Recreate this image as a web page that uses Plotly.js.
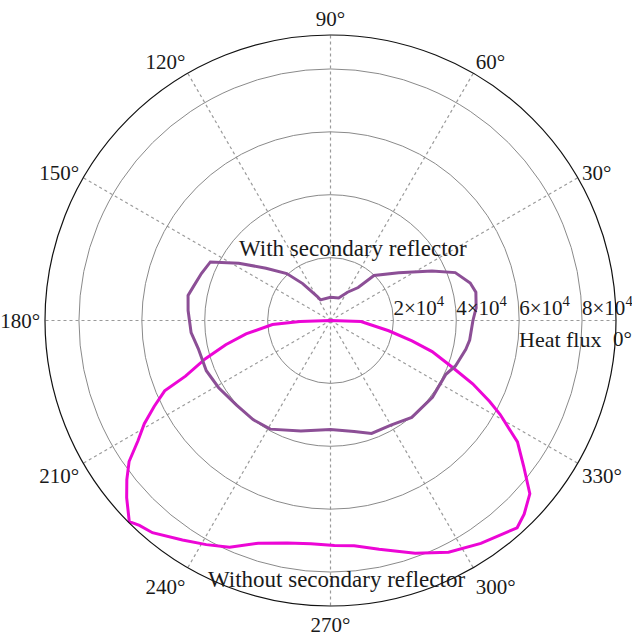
<!DOCTYPE html>
<html>
<head>
<meta charset="utf-8">
<script src="https://cdn.plot.ly/plotly-3.0.1.min.js"></script>
<style>html,body{margin:0;padding:0;background:#fff;}</style>
</head>
<body>
<div id="chart" style="width:632px;height:637px;"></div>
<script>
// Without secondary reflector (magenta), heat flux in units of 1e4
const thetaWithout = [180,182,184,189,193,197,201,203,206,209,212,215,218,221,225,227,230,236,241,246,252,259,265,271,276,282,290,297,304,312,315,319,323,327,331,333,336,339,343,346,350,358,360];
const rWithout = [0,0.97,1.85,2.72,3.42,4.16,4.94,5.73,6.24,6.77,7.22,7.82,8.22,8.59,9.05,8.91,8.81,8.42,8.15,7.89,7.45,7.21,7.13,7.16,7.20,7.44,7.88,8.27,8.55,8.87,8.71,8.40,7.69,7.09,6.17,5.68,4.95,4.15,3.38,2.67,1.88,0.97,0];

// With secondary reflector (purple), heat flux in units of 1e4
const thetaWith = [0,5,11,15,21,26,35,46,50,59,70,90,116,119,127,133,141,148,154,160,166,170,176,185,192,202,211,222,232,241,255,270,282,290,300,310,323,335,340,348,352,360];
const rWith = [4.53,4.65,4.71,4.60,4.25,3.59,2.65,1.99,1.37,1.05,0.76,0.74,0.73,0.88,1.47,2.04,2.64,3.44,4.25,4.37,4.49,4.60,4.54,4.45,4.30,4.26,4.15,4.02,4.00,3.95,3.64,3.47,3.61,3.82,3.84,4.02,4.06,4.05,4.23,4.40,4.47,4.53];

const radialTicks = [2, 4, 6, 8];
const radialTickText = ["2×10<sup>4</sup>", "4×10<sup>4</sup>", "6×10<sup>4</sup>", "8×10<sup>4</sup>"];
const angleTicks = [0,30,60,90,120,150,180,210,240,270,300,330];
const angleTickText = ["", "30°", "60°", "90°", "120°", "150°", "180°", "210°", "240°", "270°", "300°", "330°"];

const scale = 1e4;
const serif = "Liberation Serif, Times New Roman, serif";

const traces = [
  {
    type: "scatterpolar", mode: "lines",
    theta: thetaWithout, r: rWithout.map(v => v * scale),
    line: {color: "#ec06d6", width: 3},
    name: "Without secondary reflector", hoverinfo: "skip"
  },
  {
    type: "scatterpolar", mode: "lines",
    theta: thetaWith, r: rWith.map(v => v * scale),
    line: {color: "#8c4f96", width: 3},
    name: "With secondary reflector", hoverinfo: "skip"
  },
  {
    type: "scatterpolar", mode: "text",
    theta: radialTicks.map(() => 0), r: radialTicks.map(v => v * scale),
    text: radialTickText, textposition: "top right",
    textfont: {family: serif, size: 21, color: "#1a1a1a"},
    cliponaxis: false, hoverinfo: "skip"
  }
];

const ML = 45, MR = 16, MT = 35, MB = 31;
const layout = {
  width: 632, height: 637,
  margin: {l: ML, r: MR, t: MT, b: MB},
  paper_bgcolor: "#fff",
  showlegend: false,
  font: {family: serif, size: 21, color: "#1a1a1a"},
  polar: {
    bgcolor: "#fff",
    domain: {x: [0, 1], y: [0, 1]},
    radialaxis: {
      range: [0, 9.08e4],
      tickvals: radialTicks.map(v => v * scale),
      showticklabels: false, ticks: "",
      showline: false,
      gridcolor: "#8a8a8a", gridwidth: 1,
      angle: 0
    },
    angularaxis: {
      rotation: 0, direction: "counterclockwise",
      tickmode: "array", tickvals: angleTicks, ticktext: angleTickText, ticks: "",
      tickfont: {family: serif, size: 21, color: "#1a1a1a"},
      showline: true, linecolor: "#111", linewidth: 1.2,
      gridcolor: "#9a9a9a", griddash: "dot", gridwidth: 1.2
    }
  },
  annotations: []
};

const plotW = 632 - ML - MR, plotH = 637 - MT - MB;
function px(x) { return (x - ML) / plotW; }
function py(y) { return 1 - (y - MT) / plotH; }
function note(text, x, y, anchor, size) {
  layout.annotations.push({
    xref: "paper", yref: "paper", x: px(x), y: py(y), text: text,
    xanchor: anchor, yanchor: "middle", showarrow: false,
    font: {family: serif, size: size, color: "#1a1a1a"}
  });
}
note("With secondary reflector", 353, 248, "center", 23);
note("Without secondary reflector", 336, 579, "center", 23);
note("Heat flux", 603, 339, "right", 22);
note("0°", 611, 339, "left", 21);

Plotly.newPlot("chart", traces, layout, {staticPlot: true});
</script>
</body>
</html>
